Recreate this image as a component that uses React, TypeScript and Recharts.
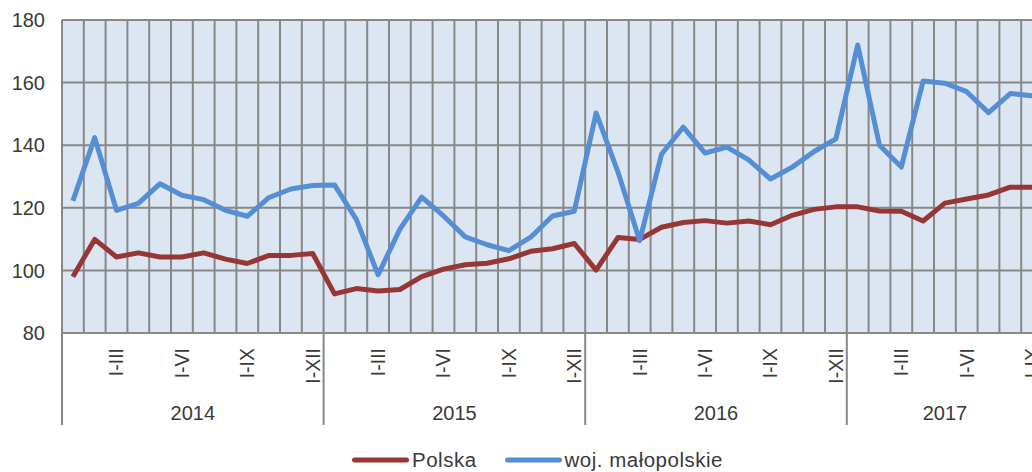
import React from "react";
import {
  LineChart,
  Line,
  XAxis,
  YAxis,
  CartesianGrid,
  Legend,
} from "recharts";

const years = ["2014", "2015", "2016", "2017"];
const periods = ["", "", "I-III", "", "", "I-VI", "", "", "I-IX", "", "", "I-XII"];

const polska = [
  98, 109.9, 104.3, 105.6, 104.3, 104.3, 105.6, 103.6, 102.2, 104.8, 104.8, 105.4,
  92.5, 94.2, 93.4, 93.9, 98, 100.4, 101.8, 102.3, 103.7, 106.1, 106.9, 108.6,
  100.1, 110.5, 109.9, 113.8, 115.3, 115.9, 115.1, 115.8, 114.6, 117.6, 119.5, 120.3,
  120.3, 119, 118.9, 115.8, 121.5, 122.8, 124.1, 126.6, 126.6,
];

const malopolskie = [
  122.2, 142.4, 119.2, 121.4, 127.7, 124, 122.6, 119.2, 117.3, 123.3, 126, 127.1,
  127.3, 116.3, 98.6, 113.2, 123.4, 117.4, 110.7, 108.2, 106.3, 110.6, 117.4, 118.9,
  150.3, 131.5, 109.5, 137.1, 145.8, 137.5, 139.4, 135.3, 129.2, 133, 138, 142,
  172, 140, 133, 160.5, 159.8, 157.1, 150.4, 156.5, 155.8,
];

const yTicks = [80, 100, 120, 140, 160, 180];

const FONT = '"Liberation Sans", Arial, sans-serif';
const TEXT = "#3a3a3a";
const GRID = "#878787";
const RED = "#963735";
const BLUE = "#558ed5";

const n = polska.length;
const data = polska.map((v, i) => ({
  x: i + 0.5,
  label: periods[i % 12],
  polska: v,
  malopolskie: malopolskie[i],
}));

// month boundaries for the vertical grid
const boundaryTicks = Array.from({ length: n + 1 }, (_, i) => i);
// rotated period labels sit in the middle of their month
const periodTicks = data.filter((d) => d.label !== "").map((d) => d.x);
// year level: start lines + centred year names
const yearStarts = years.map((_, k) => k * 12);
const yearMids = years.map((_, k) => (k * 12 + Math.min(k * 12 + 12, n)) / 2);

const PeriodTick = (props: any) => {
  const { x, y, payload } = props;
  const label = data[Math.floor(payload.value)]?.label ?? "";
  return (
    <text
      x={x}
      y={y + 15}
      dy="0.355em"
      transform={`rotate(-90, ${x}, ${y + 15})`}
      textAnchor="end"
      fontFamily={FONT}
      fontSize={19.5}
      fill={TEXT}
    >
      {label}
    </text>
  );
};

const YearTick = (props: any) => {
  const { x, y, payload } = props;
  const k = yearStarts.indexOf(payload.value);
  if (k >= 0) {
    return <line x1={x} x2={x} y1={y - 54} y2={y + 38} stroke={GRID} strokeWidth={2} />;
  }
  const m = yearMids.indexOf(payload.value);
  return (
    <text
      x={x}
      y={y + 26}
      dy="0.355em"
      textAnchor="middle"
      fontFamily={FONT}
      fontSize={20}
      fill={TEXT}
    >
      {years[m]}
    </text>
  );
};

const LegendContent = () => {
  const items = [
    { name: "Polska", color: RED },
    { name: "woj. małopolskie", color: BLUE },
  ];
  return (
    <div
      style={{
        display: "flex",
        alignItems: "center",
        height: 24,
        fontFamily: FONT,
        fontSize: 20.5,
        letterSpacing: 0.5,
        color: TEXT,
        whiteSpace: "nowrap",
      }}
    >
      {items.map((it, i) => (
        <div key={it.name} style={{ display: "flex", alignItems: "center", marginLeft: i ? 28 : 0 }}>
          <svg width={57} height={10}>
            <line x1={2.5} x2={54.5} y1={5} y2={5} stroke={it.color} strokeWidth={5} strokeLinecap="round" />
          </svg>
          <span style={{ marginLeft: 3 }}>{it.name}</span>
        </div>
      ))}
    </div>
  );
};

export default function App() {
  return (
    <div
      style={{
        position: "absolute",
        left: 0,
        top: 0,
        width: 1032,
        height: 472,
        overflow: "hidden",
        background: "#fff",
      }}
    >
      <LineChart
        width={1050}
        height={472}
        data={data}
        margin={{ top: 20, right: 7, left: 0, bottom: 23 }}
        style={{ fontFamily: FONT }}
      >
        <CartesianGrid
          xAxisId="num"
          stroke={GRID}
          strokeWidth={2}
          fill="#dce6f2"
          fillOpacity={1}
        />
        <XAxis
          xAxisId="num"
          type="number"
          dataKey="x"
          domain={[0, n]}
          ticks={boundaryTicks}
          interval={0}
          height={0}
          hide
        />
        <XAxis
          xAxisId="period"
          type="number"
          dataKey="x"
          domain={[0, n]}
          ticks={periodTicks}
          interval={0}
          height={54}
          axisLine={false}
          tickLine={false}
          tickSize={0}
          tickMargin={0}
          tick={<PeriodTick />}
        />
        <XAxis
          xAxisId="year"
          type="number"
          dataKey="x"
          domain={[0, n]}
          ticks={[...yearStarts, ...yearMids].sort((a, b) => a - b)}
          interval={0}
          height={38}
          axisLine={false}
          tickLine={false}
          tickSize={0}
          tickMargin={0}
          tick={<YearTick />}
        />
        <YAxis
          type="number"
          domain={[80, 180]}
          ticks={yTicks}
          interval={0}
          width={62}
          axisLine={false}
          tickLine={false}
          tickSize={0}
          tickMargin={17}
          tick={{ fontSize: 20, fill: TEXT, fontFamily: FONT }}
        />
        <Legend
          verticalAlign="bottom"
          content={<LegendContent />}
          wrapperStyle={{ left: 352, bottom: 0, width: 420 }}
        />
        <Line
          xAxisId="num"
          dataKey="polska"
          name="Polska"
          stroke={RED}
          strokeWidth={5}
          strokeLinejoin="round"
          dot={false}
          activeDot={false}
          isAnimationActive={false}
        />
        <Line
          xAxisId="num"
          dataKey="malopolskie"
          name="woj. małopolskie"
          stroke={BLUE}
          strokeWidth={5}
          strokeLinejoin="round"
          dot={false}
          activeDot={false}
          isAnimationActive={false}
        />
      </LineChart>
    </div>
  );
}
